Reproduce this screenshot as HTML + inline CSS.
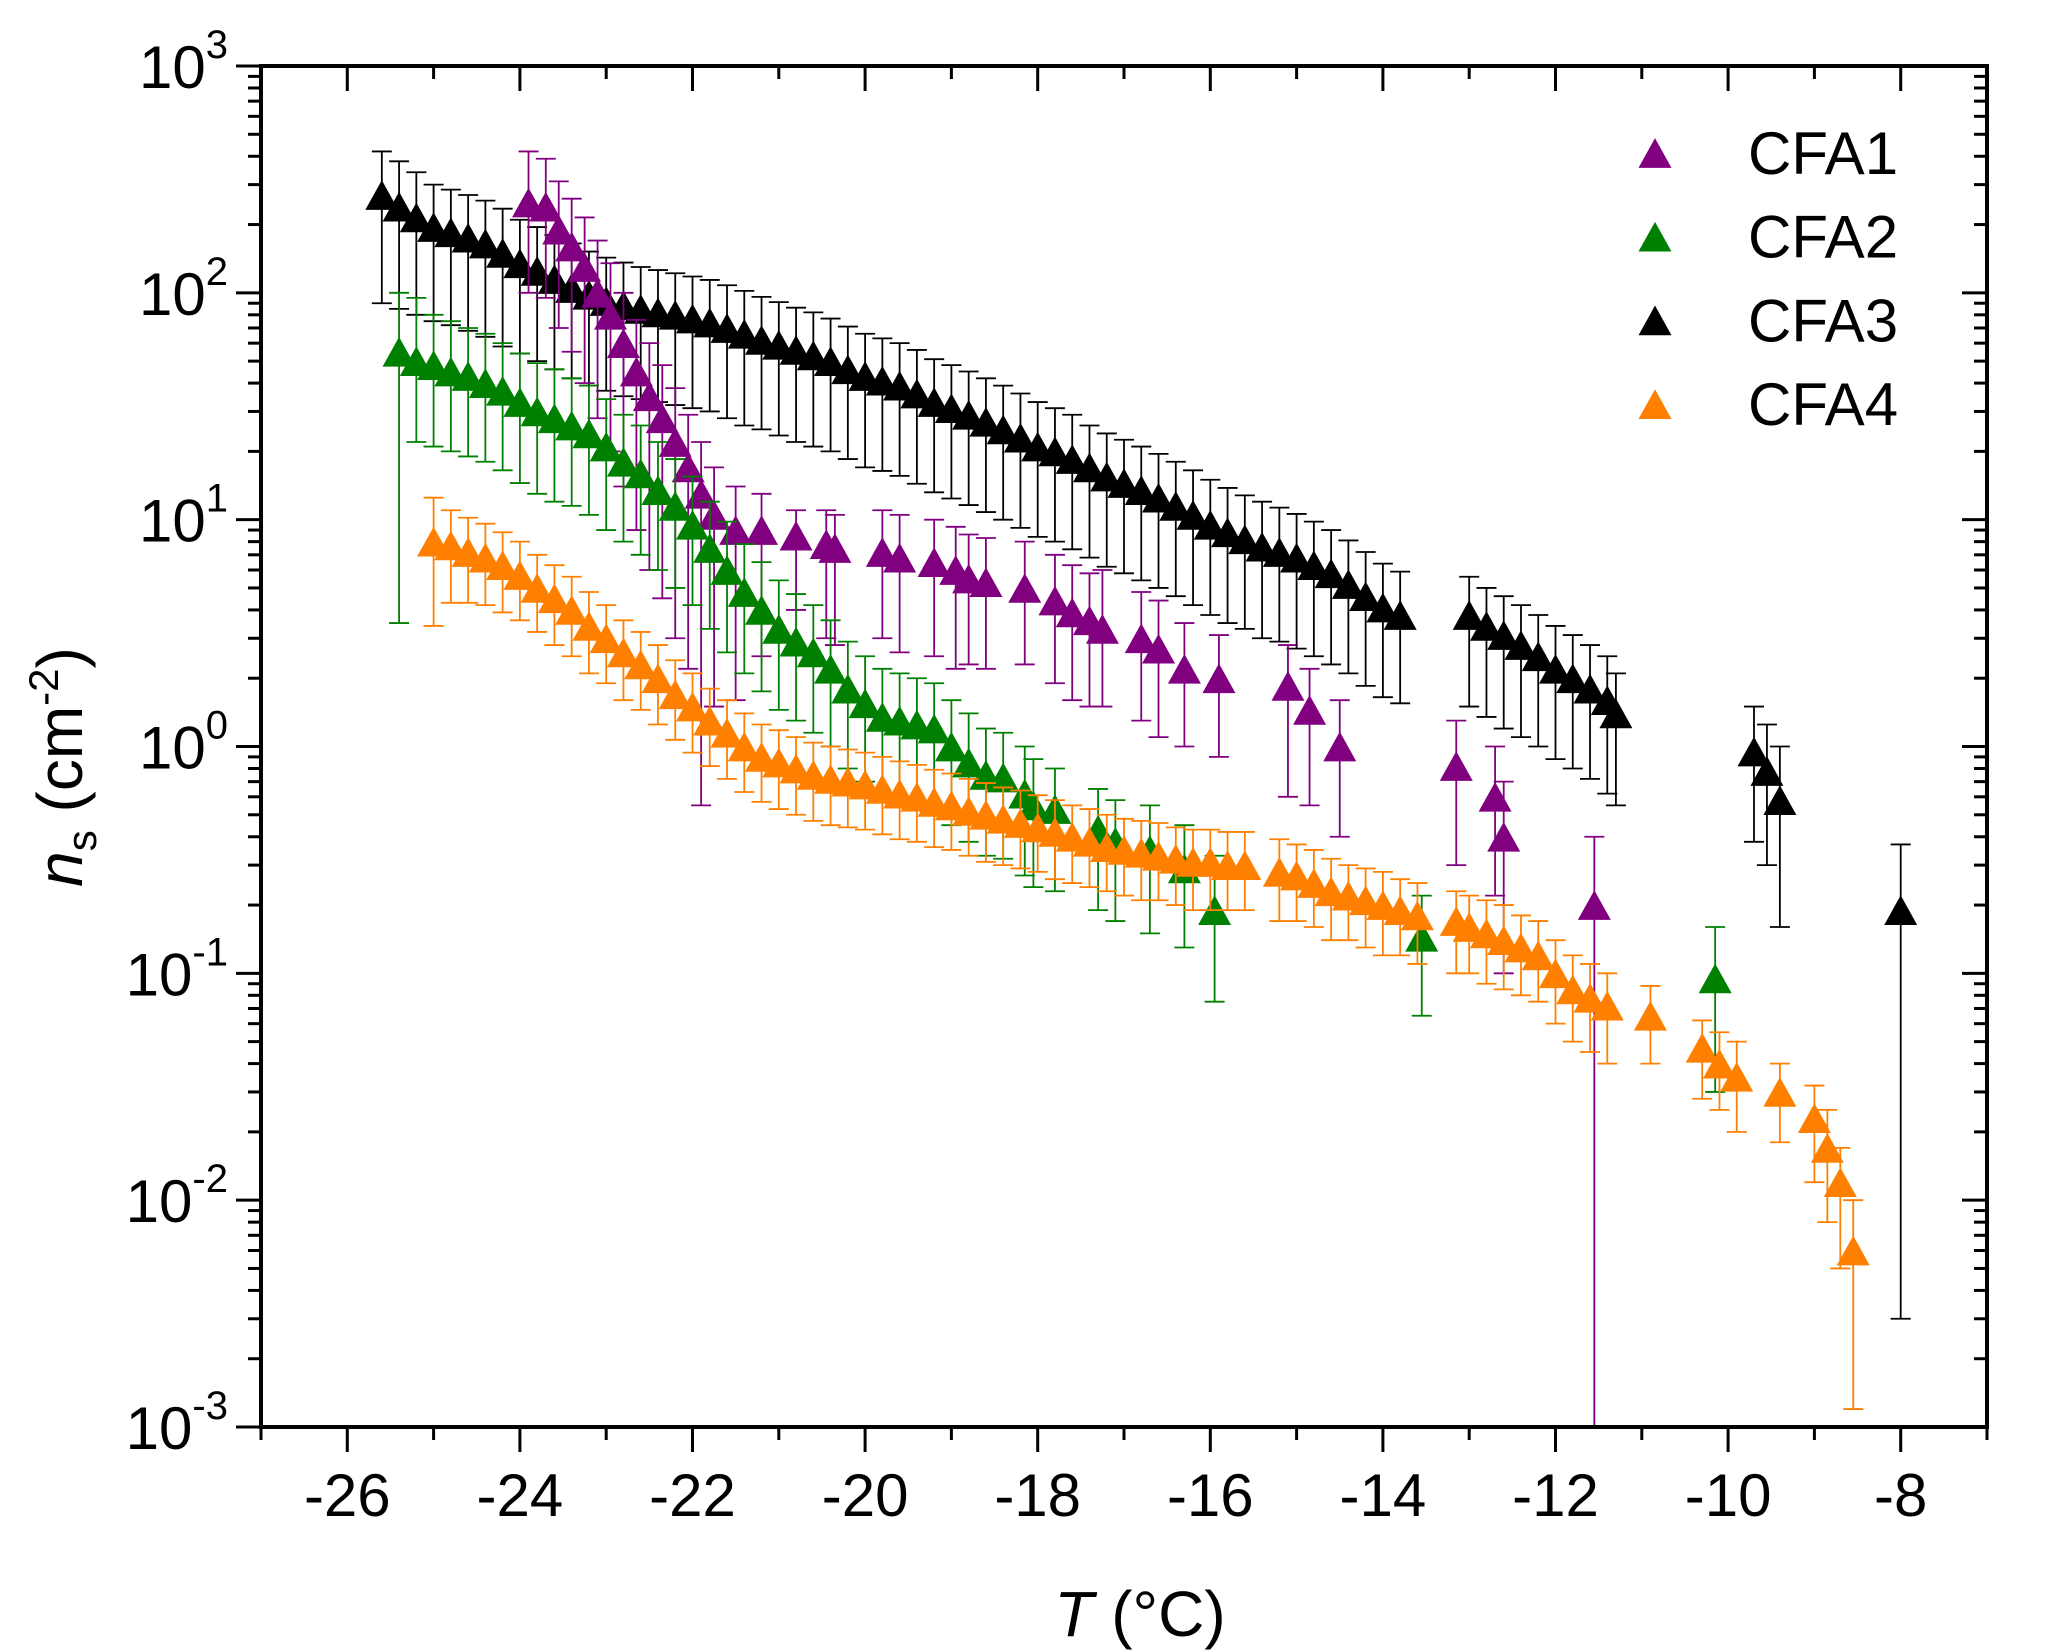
<!DOCTYPE html>
<html><head><meta charset="utf-8"><style>
html,body{margin:0;padding:0;background:#fff;}
svg{display:block;font-family:"Liberation Sans",Arial,sans-serif;}
</style></head><body>
<svg id="chart" width="2067" height="1652" viewBox="0 0 2067 1652" xmlns="http://www.w3.org/2000/svg">
<g id="grid"></g><g id="series"></g><g id="axes"></g>
<g id="legend"></g>
<text x="1140" y="1636" font-size="64" text-anchor="middle"><tspan font-style="italic">T</tspan> (°C)</text>
<text transform="translate(82,767) rotate(-90)" font-size="64" text-anchor="middle"><tspan font-style="italic">n</tspan><tspan font-size="42" dy="14">s</tspan><tspan dy="-14"> (cm</tspan><tspan font-size="42" dy="-24">-2</tspan><tspan dy="24">)</tspan></text>
</svg>
<script>
const xTicks=[-26,-24,-22,-20,-18,-16,-14,-12,-10,-8];
const yDecades=[-3,-2,-1,0,1,2,3];
const seriesNames=["CFA1","CFA2","CFA3","CFA4"];
const seriesColors=["#800080","#008000","#000000","#ff8000"];

const cfa3T=[-25.6,-25.4,-25.2,-25.0,-24.8,-24.6,-24.4,-24.2,-24.0,-23.8,-23.6,-23.4,-23.2,-23.0,-22.8,-22.6,-22.4,-22.2,-22.0,-21.8,-21.6,-21.4,-21.2,-21.0,-20.8,-20.6,-20.4,-20.2,-20.0,-19.8,-19.6,-19.4,-19.2,-19.0,-18.8,-18.6,-18.4,-18.2,-18.0,-17.8,-17.6,-17.4,-17.2,-17.0,-16.8,-16.6,-16.4,-16.2,-16.0,-15.8,-15.6,-15.4,-15.2,-15.0,-14.8,-14.6,-14.4,-14.2,-14.0,-13.8,-13.0,-12.8,-12.6,-12.4,-12.2,-12.0,-11.8,-11.6,-11.4,-11.3,-9.7,-9.55,-9.4,-8.0];
const cfa3V=[270,240,215,195,185,175,165,150,135,125,115,105,98,92,88,85,82,80,77,74,70,66,62,59,56,53,50,46,43,41,39,36,33,31,29,27,25,23,21,20,18.5,17,15.5,14.5,13.5,12.5,11.5,10.5,9.5,8.8,8.2,7.6,7.2,6.8,6.3,5.8,5.2,4.6,4.1,3.8,3.8,3.4,3.1,2.8,2.5,2.2,2.0,1.8,1.6,1.4,0.95,0.78,0.58,0.19];
const cfa3Hi=[420,380,340,300,285,270,255,235,210,195,180,165,152,143,136,130,126,122,118,114,108,102,96,91,86,82,77,71,66,63,60,56,51,48,45,42,39,36,33,31,29,26,24,22.5,21,19.5,18,16.5,15,13.8,12.8,12,11.3,10.6,9.8,9,8.1,7.2,6.4,5.9,5.6,5,4.6,4.2,3.8,3.4,3.1,2.8,2.5,2.1,1.5,1.25,1.0,0.37];
const cfa3Lo=[90,85,80,75,72,68,64,58,54,50,46,42,39,37,35,34,33,32,31,30,28,26,25,23.5,22,21,20,18.5,17,16.4,15.6,14.4,13.2,12.4,11.6,10.8,10,9.2,8.4,8,7.4,6.8,6.2,5.8,5.4,5,4.6,4.2,3.8,3.5,3.3,3.0,2.9,2.7,2.5,2.3,2.1,1.85,1.65,1.55,1.5,1.35,1.2,1.1,1.0,0.88,0.8,0.72,0.62,0.55,0.38,0.3,0.16,0.003];

const cfa1T=[-23.9,-23.7,-23.55,-23.4,-23.25,-23.1,-22.95,-22.8,-22.65,-22.5,-22.35,-22.2,-22.05,-21.9,-21.75,-21.5,-21.2,-20.8,-20.45,-20.35,-19.8,-19.6,-19.2,-18.95,-18.8,-18.6,-18.15,-17.8,-17.6,-17.4,-17.25,-16.8,-16.6,-16.3,-15.9,-15.1,-14.85,-14.5,-13.15,-12.7,-12.6,-11.55];
const cfa1V=[250,240,190,160,130,100,80,60,45,35,28,22,17,13,10.5,9,9,8.5,7.8,7.5,7.2,6.8,6.5,6,5.5,5.3,5,4.4,3.9,3.6,3.3,3.0,2.7,2.2,2.0,1.85,1.45,1.0,0.82,0.6,0.4,0.2];
const cfa1Hi=[420,390,310,260,215,170,135,100,76,60,48,38,29,22,17,14,13,11,11,10.5,11,10.5,10,9.3,8.6,8.3,8,7,6.3,5.8,6,4.8,4.4,3.5,3.1,2.8,2.2,1.6,1.3,1.0,0.7,0.4];
const cfa1Lo=[100,95,70,55,40,28,20,14,9,6,4.5,3,2.2,0.55,1.5,1.6,2.5,4,3,2.8,3,2.6,2.5,2.2,2.3,2.2,2.3,1.9,1.6,1.5,1.5,1.3,1.1,1.0,0.9,0.6,0.55,0.4,0.3,0.22,0.1,0.001];

const cfa2T=[-25.4,-25.2,-25.0,-24.8,-24.6,-24.4,-24.2,-24.0,-23.8,-23.6,-23.4,-23.2,-23.0,-22.8,-22.6,-22.4,-22.2,-22.0,-21.8,-21.6,-21.4,-21.2,-21.0,-20.8,-20.6,-20.4,-20.2,-20.0,-19.8,-19.6,-19.4,-19.2,-19.0,-18.8,-18.6,-18.4,-18.15,-18.05,-17.8,-17.3,-17.1,-16.7,-16.3,-15.95,-13.55,-10.15];
const cfa2V=[55,50,48,45,43,40,37,33,30,28,26,24,21,18,16,13.5,11.5,9.5,7.5,6,4.8,4,3.3,2.9,2.6,2.2,1.8,1.55,1.35,1.3,1.25,1.2,1.0,0.85,0.75,0.73,0.62,0.55,0.53,0.43,0.38,0.35,0.29,0.19,0.145,0.095];
const cfa2Hi=[100,95,80,75,70,66,60,54,49,46,42,39,34,29,26,22,18.5,15.5,12,9.8,7.8,6.5,5.4,4.7,4.2,3.6,2.9,2.5,2.2,2.1,2.0,1.9,1.6,1.4,1.2,1.15,1.0,0.88,0.8,0.65,0.58,0.55,0.45,0.33,0.22,0.16];
const cfa2Lo=[3.5,22,21,20,19,18,16.5,14.5,13,12,11.5,10.5,9,8,7,6,5,4.2,3.3,2.6,2.1,1.75,1.45,1.3,1.15,1.0,0.8,0.7,0.6,0.58,0.55,0.53,0.45,0.38,0.33,0.32,0.27,0.24,0.23,0.19,0.17,0.15,0.13,0.075,0.065,0.03];

const cfa4T=[-25.0,-24.8,-24.6,-24.4,-24.2,-24.0,-23.8,-23.6,-23.4,-23.2,-23.0,-22.8,-22.6,-22.4,-22.2,-22.0,-21.8,-21.6,-21.4,-21.2,-21.0,-20.8,-20.6,-20.4,-20.2,-20.0,-19.8,-19.6,-19.4,-19.2,-19.0,-18.8,-18.6,-18.4,-18.2,-18.0,-17.8,-17.6,-17.4,-17.2,-17.0,-16.8,-16.6,-16.4,-16.2,-16.0,-15.8,-15.6,-15.2,-15.0,-14.8,-14.6,-14.4,-14.2,-14.0,-13.8,-13.6,-13.15,-13.0,-12.8,-12.6,-12.4,-12.2,-12.0,-11.8,-11.6,-11.4,-10.9,-10.3,-10.1,-9.9,-9.4,-9.0,-8.85,-8.7,-8.55];
const cfa4V=[8,7.7,7.2,6.8,6.3,5.7,5.0,4.5,4.0,3.4,3.0,2.6,2.3,2.0,1.7,1.5,1.3,1.15,1.0,0.9,0.85,0.8,0.75,0.72,0.7,0.68,0.65,0.62,0.6,0.57,0.55,0.52,0.5,0.48,0.46,0.44,0.42,0.4,0.38,0.36,0.35,0.34,0.33,0.32,0.31,0.31,0.3,0.3,0.28,0.27,0.25,0.23,0.22,0.21,0.2,0.19,0.18,0.17,0.16,0.15,0.14,0.13,0.12,0.1,0.085,0.078,0.072,0.065,0.047,0.04,0.035,0.03,0.023,0.017,0.012,0.006];
const cfa4Hi=[12.5,11,10.2,9.6,8.8,8,7,6.3,5.6,4.8,4.2,3.6,3.2,2.8,2.4,2.1,1.8,1.6,1.4,1.25,1.18,1.1,1.04,1.0,0.97,0.94,0.9,0.86,0.83,0.79,0.76,0.72,0.69,0.66,0.64,0.61,0.58,0.55,0.53,0.5,0.48,0.47,0.46,0.44,0.43,0.43,0.42,0.42,0.39,0.37,0.35,0.32,0.3,0.29,0.28,0.26,0.25,0.23,0.22,0.21,0.2,0.18,0.17,0.14,0.12,0.11,0.1,0.088,0.062,0.055,0.05,0.04,0.032,0.025,0.017,0.01];
const cfa4Lo=[3.4,4.3,4.3,4.2,3.9,3.6,3.2,2.8,2.5,2.1,1.9,1.6,1.45,1.25,1.07,0.94,0.82,0.72,0.63,0.57,0.53,0.5,0.47,0.45,0.44,0.43,0.41,0.39,0.38,0.36,0.35,0.33,0.31,0.3,0.29,0.28,0.26,0.25,0.24,0.23,0.22,0.21,0.21,0.2,0.19,0.19,0.19,0.19,0.17,0.17,0.16,0.14,0.14,0.13,0.12,0.12,0.11,0.1,0.1,0.09,0.085,0.08,0.075,0.06,0.05,0.045,0.04,0.04,0.028,0.025,0.02,0.018,0.012,0.008,0.005,0.0012];

const X0=261,X1=1987,Y0=1427,Y1=66;
const xMin=-27,xMax=-7,yMin=-3,yMax=3;
function xs(t){return X0+(t-xMin)/(xMax-xMin)*(X1-X0);}
function ys(v){return Y0-(Math.log10(v)-yMin)/(yMax-yMin)*(Y0-Y1);}
const NS="http://www.w3.org/2000/svg";
function mk(tag,attrs,parent){const e=document.createElementNS(NS,tag);for(const k in attrs)e.setAttribute(k,attrs[k]);parent.appendChild(e);return e;}
const axes=document.getElementById('axes');
const seriesG=document.getElementById('series');
const legend=document.getElementById('legend');

for(let t=-27;t<=-7;t++){
  const x=xs(t);const major=(t%2===0);
  const b=mk('line',{x1:x,y1:Y0,x2:x,y2:Y0+(major?25:13),stroke:'#000','stroke-width':3},axes);
  
  
  const tp=mk('line',{x1:x,y1:Y1,x2:x,y2:Y1+(major?25:13),stroke:'#000','stroke-width':3},axes);
  
  
}
xTicks.forEach(t=>{
  const lb=mk('text',{x:xs(t),y:1516,'font-size':60,'text-anchor':'middle'},axes);
  lb.textContent=String(t);
  
  
});
yDecades.forEach(d=>{
  const y=ys(Math.pow(10,d));
  const l=mk('line',{x1:X0-25,y1:y,x2:X0,y2:y,stroke:'#000','stroke-width':3},axes);
  
  
  const r=mk('line',{x1:X1-25,y1:y,x2:X1,y2:y,stroke:'#000','stroke-width':3},axes);
  
  
  const lb=mk('text',{x:228,y:y+22,'font-size':60,'text-anchor':'end'},axes);
  
  
  const a=mk('tspan',{},lb);a.textContent='10';
  const s=mk('tspan',{'font-size':40,dy:-30},lb);s.textContent=String(d);
  if(d<3){for(let m=2;m<=9;m++){
    const ym=ys(m*Math.pow(10,d));
    const ml=mk('line',{x1:X0-13,y1:ym,x2:X0,y2:ym,stroke:'#000','stroke-width':3},axes);
    
    
    const mr=mk('line',{x1:X1-13,y1:ym,x2:X1,y2:ym,stroke:'#000','stroke-width':3},axes);
    
    
  }}
});
const frame=mk('rect',{x:X0,y:Y1,width:X1-X0,height:Y0-Y1,fill:'none',stroke:'#000','stroke-width':4},axes);



function tri(cx,cy,s){const h=s*0.9;return `${cx-s/2},${cy+h/2} ${cx+s/2},${cy+h/2} ${cx},${cy-h/2}`;}
function drawSeries(name,T,V,Lo,Hi,color){
  const g=mk('g',{},seriesG);
  
  
  T.forEach((t,i)=>{
    const x=xs(t),yl=Math.min(ys(Lo[i]),Y0),yh=ys(Hi[i]);
    const e=mk('path',{d:`M${x},${yl}V${yh}M${x-10},${yh}H${x+10}M${x-10},${yl}H${x+10}`,stroke:color,'stroke-width':1.8,fill:'none'},g);
    
    
  });
  T.forEach((t,i)=>{
    const p=mk('polygon',{points:tri(xs(t),ys(V[i]),33),fill:color},g);
    
    
  });
}
drawSeries('CFA3',cfa3T,cfa3V,cfa3Lo,cfa3Hi,seriesColors[2]);
drawSeries('CFA1',cfa1T,cfa1V,cfa1Lo,cfa1Hi,seriesColors[0]);
drawSeries('CFA2',cfa2T,cfa2V,cfa2Lo,cfa2Hi,seriesColors[1]);
drawSeries('CFA4',cfa4T,cfa4V,cfa4Lo,cfa4Hi,seriesColors[3]);

seriesNames.forEach((n,i)=>{
  const cy=153+i*83.7;
  const g=mk('g',{},legend);
  
  
  mk('polygon',{points:tri(1655,cy,33),fill:seriesColors[i]},g);
  const t=mk('text',{x:1748,y:cy+21,'font-size':60},g);
  t.textContent=n;
});
</script>
</body></html>
